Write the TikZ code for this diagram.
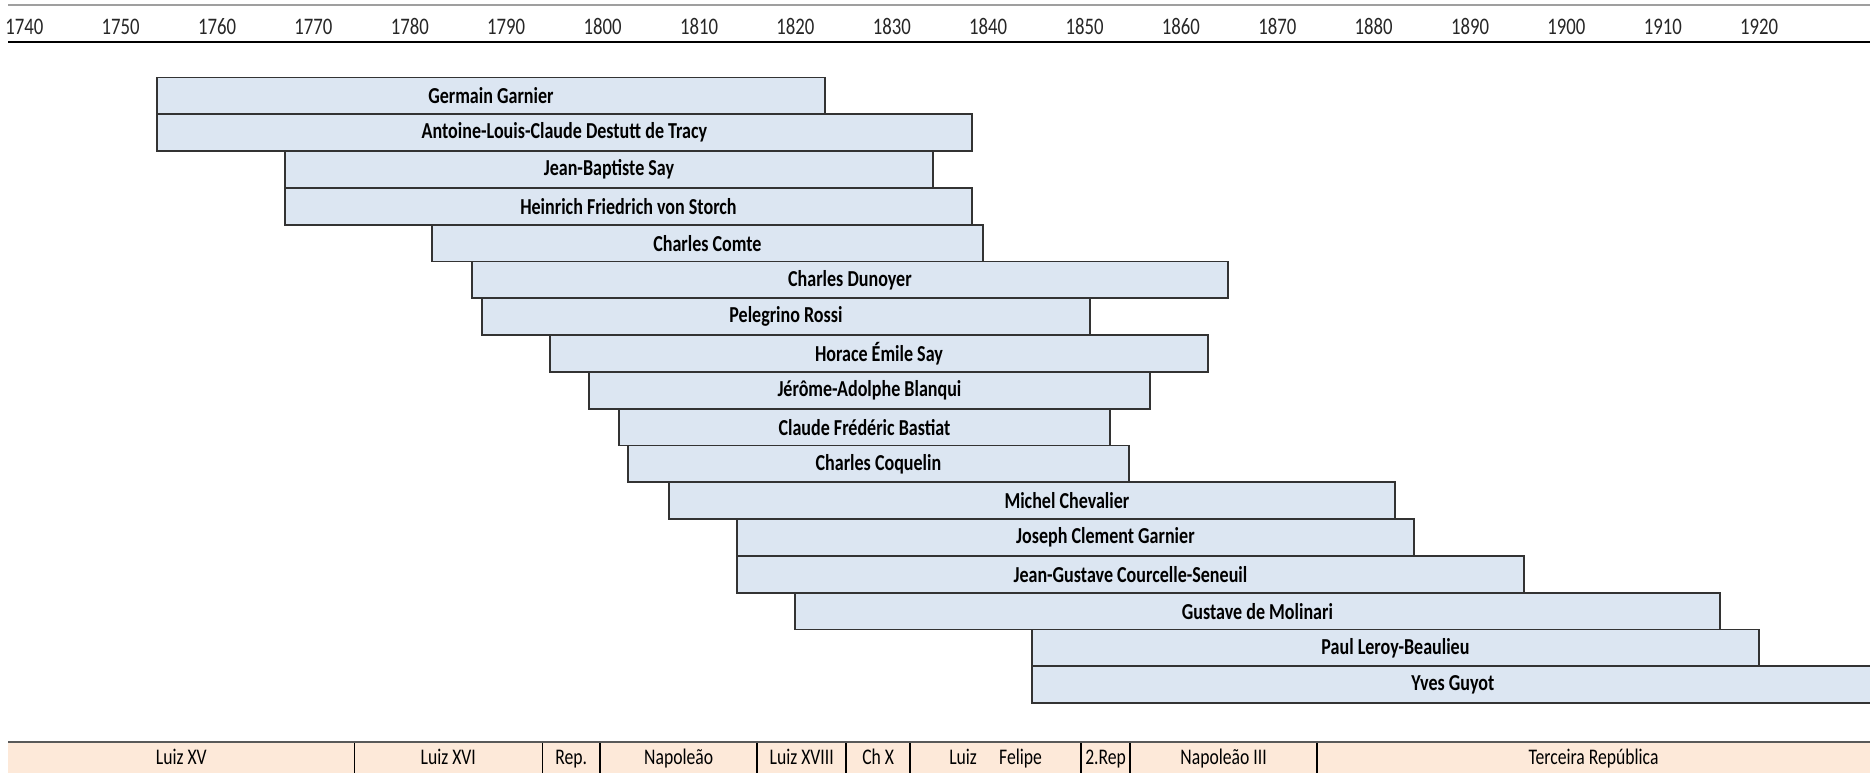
\documentclass[tikz,border=0pt]{standalone}
\usepackage{fontspec}
\setmainfont{Carlito}
\newfontfamily\chartfont{Carlito}[FakeStretch=0.79]
\usetikzlibrary{matrix}

\definecolor{barblue}{RGB}{220,230,242}
\definecolor{reignpeach}{RGB}{253,233,217}

\begin{document}
\begin{tikzpicture}[x=0.02cm, y=-0.02cm,
    bar/.style={draw=black!80, fill=barblue, line width=1.1pt, anchor=north west,
        minimum height=0.736cm, inner sep=0pt, outer sep=0pt,
        font=\chartfont\bfseries\fontsize{13}{14}\selectfont},
    reignsep/.style={line width=0.85pt, black},
  ]
    \useasboundingbox (0,0) rectangle (1870,773);
    \clip (0,0) rectangle (1870,773);

    % year axis
    \draw[gray!75, line width=1.7pt] (8,5) -- (1870,5);
    \matrix (years) [
        matrix of nodes,
        matrix anchor=west,
        column sep=0pt,
        inner sep=0pt,
        nodes={minimum width=1.928cm, inner sep=0pt, text height=1.6ex, text depth=0.2ex,
            font=\chartfont\fontsize{13.5}{15}\selectfont, text=black!85},
    ] at (-24.2,28.5)
    { 1740 & 1750 & 1760 & 1770 & 1780 & 1790 & 1800 & 1810 & 1820 & 1830 &
      1840 & 1850 & 1860 & 1870 & 1880 & 1890 & 1900 & 1910 & 1920 \\
    };
    \draw[line width=1.4pt] (8,42) -- (1870,42);

    % economists
    \node[bar, minimum width=13.36cm] (ggarnier) at (157,77.5) {Germain Garnier};
    \node[bar, minimum width=16.30cm] (tracy) at (157,114.3) {Antoine-Louis-Claude Destutt de Tracy};
    \node[bar, minimum width=12.96cm] (jbsay) at (285,151.1) {Jean-Baptiste Say};
    \node[bar, minimum width=13.74cm] (storch) at (285,187.9) {Heinrich Friedrich von Storch};
    \node[bar, minimum width=11.02cm] (comte) at (432,224.7) {Charles Comte};
    \node[bar, minimum width=15.12cm] (dunoyer) at (472,261.5) {Charles Dunoyer};
    \node[bar, minimum width=12.16cm] (rossi) at (482,298.3) {Pelegrino Rossi};
    \node[bar, minimum width=13.16cm] (hsay) at (550,335.1) {Horace Émile Say};
    \node[bar, minimum width=11.22cm] (blanqui) at (589,371.9) {Jérôme-Adolphe Blanqui};
    \node[bar, minimum width=9.82cm] (bastiat) at (619,408.7) {Claude Frédéric Bastiat};
    \node[bar, minimum width=10.02cm] (coquelin) at (628,445.5) {Charles Coquelin};
    \node[bar, minimum width=14.52cm] (chevalier) at (669,482.3) {\hspace*{1.4cm}Michel Chevalier};
    \node[bar, minimum width=13.54cm] (jcgarnier) at (737,519.1) {\hspace*{1.2cm}Joseph Clement Garnier};
    \node[bar, minimum width=15.74cm] (courcelle) at (737,555.9) {Jean-Gustave Courcelle-Seneuil};
    \node[bar, minimum width=18.50cm] (molinari) at (795,592.7) {Gustave de Molinari};
    \node[bar, minimum width=14.54cm] (leroy) at (1032,629.5) {Paul Leroy-Beaulieu};
    \node[bar, minimum width=16.84cm] (guyot) at (1032,666.3) {Yves Guyot};

    % reigns
    \matrix (reigns) [
        matrix of nodes,
        matrix anchor=north west,
        column sep=0pt,
        inner sep=0pt,
        nodes={fill=reignpeach, minimum height=0.68cm, inner sep=0pt, outer sep=0pt,
            text height=1.6ex, text depth=0.35ex,
            font=\chartfont\fontsize{12.7}{14}\selectfont},
    ] at (8,742)
    { |[minimum width=6.92cm]| Luiz XV & |[minimum width=3.76cm]| Luiz XVI &
      |[minimum width=1.16cm]| Rep. & |[minimum width=3.14cm]| Napoleão &
      |[minimum width=1.78cm]| Luiz XVIII & |[minimum width=1.28cm]| Ch X &
      |[minimum width=3.42cm]| Luiz\hspace{1em}Felipe & |[minimum width=0.98cm]| 2.Rep &
      |[minimum width=3.74cm]| Napoleão III & |[minimum width=11.06cm]| Terceira República \\
    };
    \draw[reignsep] (reigns-1-1.north east) -- (reigns-1-1.south east);
    \draw[reignsep] (reigns-1-2.north east) -- (reigns-1-2.south east);
    \draw[reignsep] (reigns-1-3.north east) -- (reigns-1-3.south east);
    \draw[reignsep] (reigns-1-4.north east) -- (reigns-1-4.south east);
    \draw[reignsep] (reigns-1-5.north east) -- (reigns-1-5.south east);
    \draw[reignsep] (reigns-1-6.north east) -- (reigns-1-6.south east);
    \draw[reignsep] (reigns-1-7.north east) -- (reigns-1-7.south east);
    \draw[reignsep] (reigns-1-8.north east) -- (reigns-1-8.south east);
    \draw[reignsep] (reigns-1-9.north east) -- (reigns-1-9.south east);
    \draw[black!65, line width=1.7pt] (reigns.north west) -- (reigns.north east);
\end{tikzpicture}
\end{document}
